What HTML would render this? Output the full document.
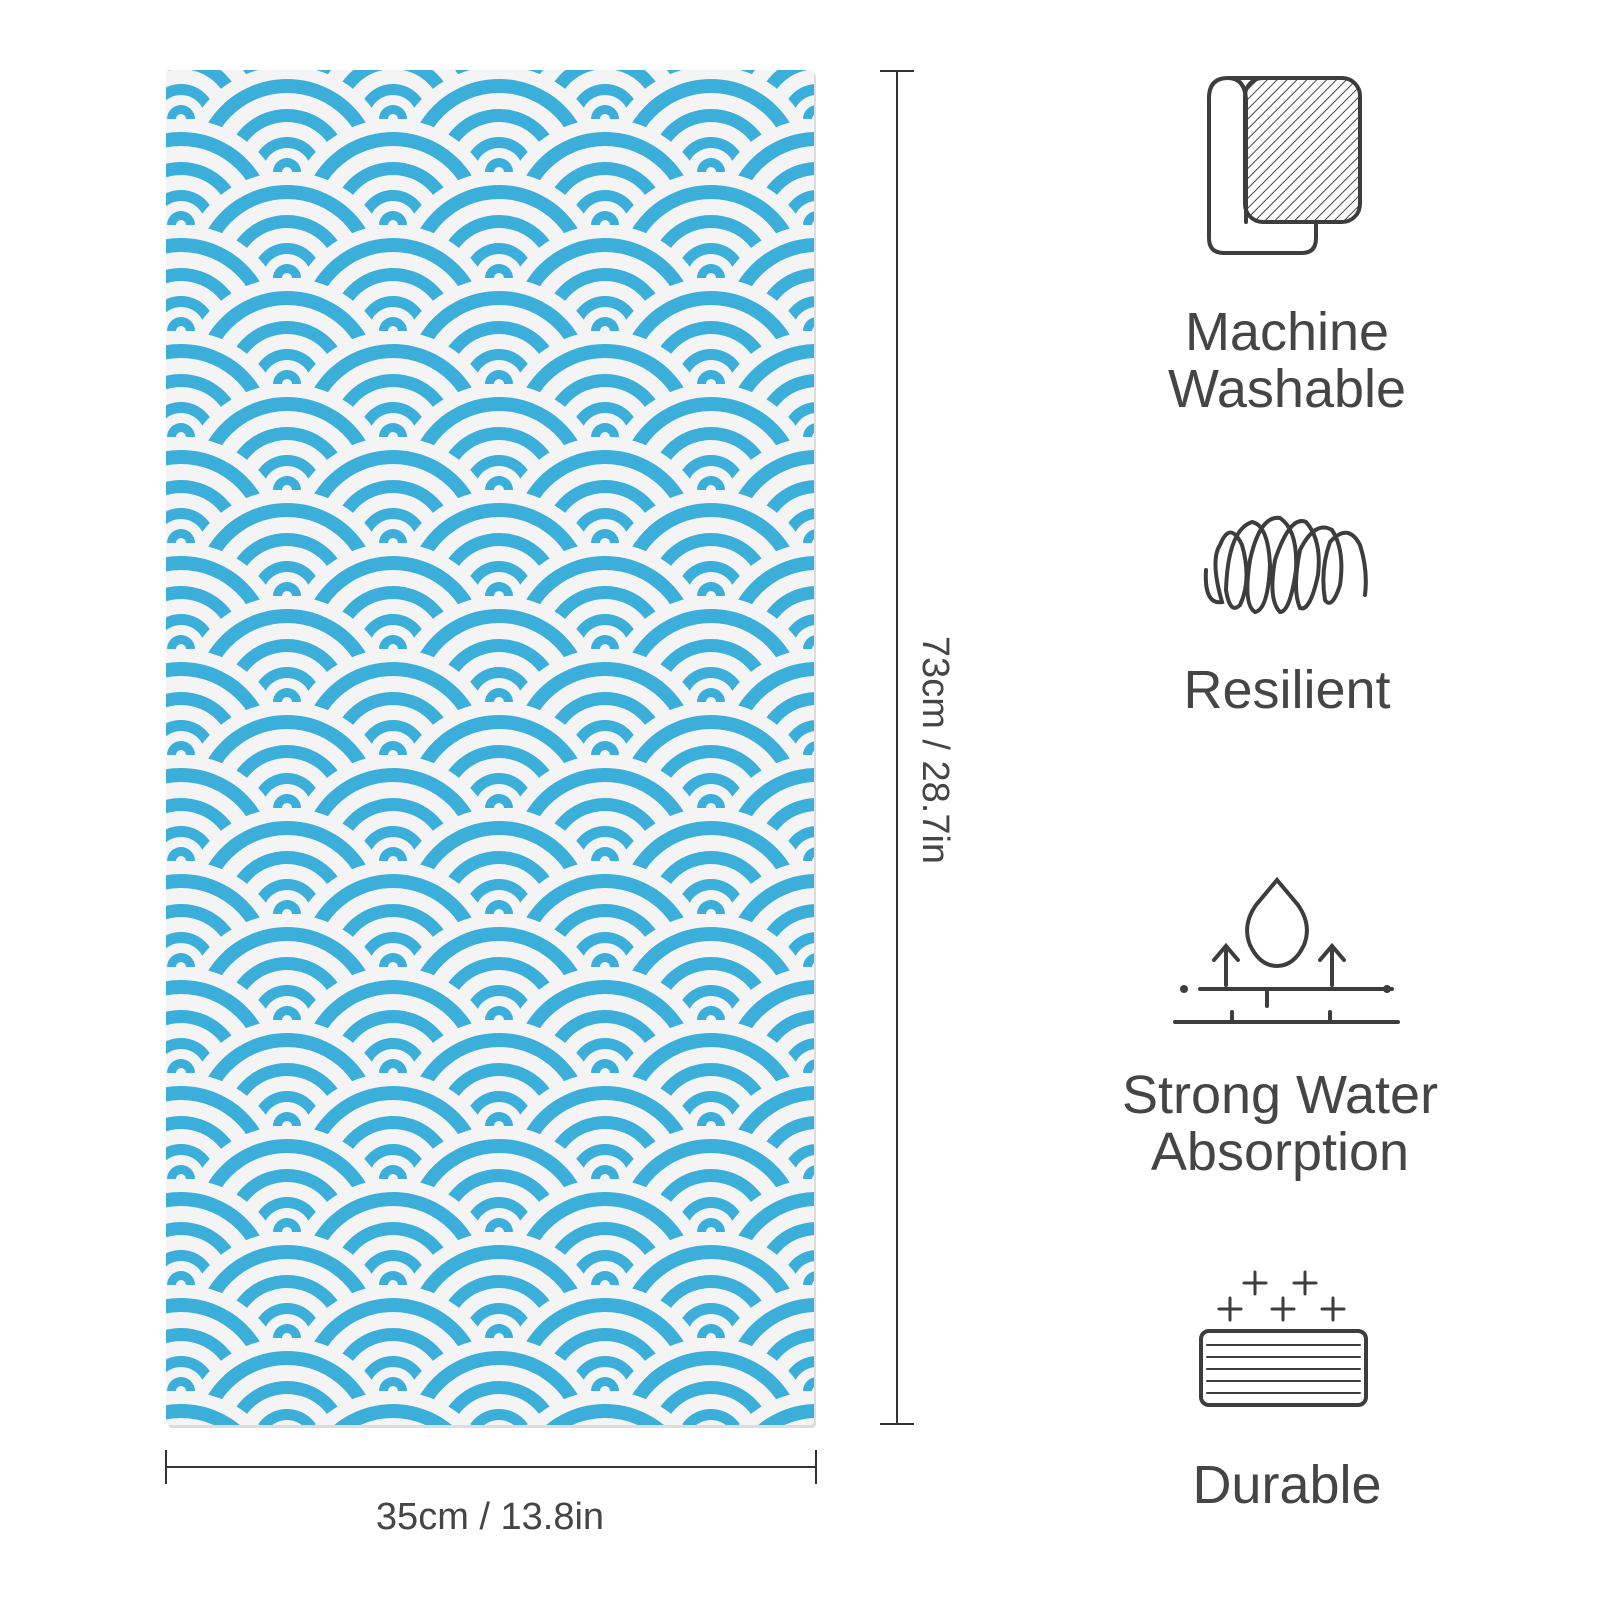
<!DOCTYPE html>
<html><head><meta charset="utf-8"><style>
html,body{margin:0;padding:0;background:#fff;width:1600px;height:1600px;overflow:hidden}
svg{display:block}
.t{position:absolute;font-family:"Liberation Sans",sans-serif;color:#454545;text-align:center;font-size:54px;line-height:57px}
</style></head><body>
<svg id="s" width="1600" height="1600" style="position:absolute;left:0;top:0">
<defs>
<clipPath id="c"><rect x="166" y="70" width="648" height="1355" rx="4"/></clipPath>
<pattern id="h" width="7" height="7" patternUnits="userSpaceOnUse" patternTransform="rotate(45)"><rect width="7" height="7" fill="#fff"/><line x1="0" y1="0" x2="0" y2="7" stroke="#444" stroke-width="2"/></pattern>
</defs>
<rect x="168" y="73" width="648" height="1355" fill="#ddd" rx="4"/>
<g id="w" clip-path="url(#c)"><rect x="166" y="70" width="648" height="1355" fill="#f4f4f4"/></g>
<g stroke="#333" stroke-width="2" fill="none">
<line x1="897" y1="71" x2="897" y2="1424"/><line x1="880" y1="71" x2="914" y2="71"/><line x1="880" y1="1424" x2="914" y2="1424"/>
<line x1="166" y1="1467" x2="816" y2="1467"/><line x1="166" y1="1450" x2="166" y2="1484"/><line x1="816" y1="1450" x2="816" y2="1484"/>
</g>
<g stroke="#3d3d3d" stroke-width="4" fill="none" stroke-linecap="round">
<path d="M1228 78 Q1209 78 1209 98 V238 Q1209 253 1224 253 H1302 Q1316 253 1316 238 V222"/>
<rect x="1245" y="78" width="115" height="144" rx="18" fill="url(#h)"/>
<path d="M1228 78 H1263 M1228 78 Q1245 78 1246 100 V222"/>
<path d="M1206 570 Q1204 605 1222 602 Q1210 560 1220 545 Q1230 520 1242 545 Q1252 580 1240 605 Q1230 615 1226 590 Q1228 530 1252 522 Q1268 525 1270 565 Q1268 610 1255 612 Q1243 605 1250 560 Q1260 515 1280 518 Q1298 530 1296 570 Q1290 612 1280 612 Q1268 600 1275 560 Q1290 515 1306 522 Q1322 540 1318 575 Q1310 612 1300 608 Q1292 590 1300 550 Q1315 520 1332 530 Q1345 550 1340 585 Q1332 610 1325 600 Q1320 570 1330 542 Q1348 522 1360 545 Q1368 570 1365 595"/>
<path d="M1277 880 L1298 905 Q1312 925 1304 945 Q1294 966 1277 966 Q1260 966 1250 945 Q1242 925 1256 905 Z"/>
<path d="M1226 985 V948 M1214 960 L1226 946 L1238 960 M1332 985 V948 M1320 960 L1332 946 L1344 960"/>
<path d="M1200 989 H1392 M1175 1022 H1398 M1267 992 V1006 M1232 1012 V1021 M1330 1012 V1021"/>
<rect x="1201" y="1331" width="165" height="74" rx="8"/>
<g stroke-width="2"><path d="M1207 1345 H1360 M1207 1357 H1360 M1207 1369 H1360 M1207 1381 H1360 M1207 1393 H1360"/></g>
<g stroke-width="3"><path d="M1244 1283 h22 M1255 1272 v22 M1294 1283 h22 M1305 1272 v22 M1219 1309 h22 M1230 1298 v22 M1272 1309 h22 M1283 1298 v22 M1322 1309 h22 M1333 1298 v22"/></g>
</g>
<circle cx="1184" cy="989" r="4" fill="#3d3d3d"/><circle cx="1387" cy="989" r="4" fill="#3d3d3d"/>
</svg>
<div class="t" style="left:1087px;top:304px;width:400px">Machine<br>Washable</div>
<div class="t" style="left:1087px;top:662px;width:400px">Resilient</div>
<div class="t" style="left:1080px;top:1067px;width:400px">Strong Water<br>Absorption</div>
<div class="t" style="left:1087px;top:1457px;width:400px">Durable</div>
<div class="t" style="left:290px;top:1497px;width:400px;font-size:38px;line-height:40px">35cm / 13.8in</div>
<div class="t" style="left:735px;top:730px;width:400px;font-size:38px;line-height:40px;transform:rotate(90deg)">73cm / 28.7in</div>
<script>
var g=document.getElementById('w'),ns='http://www.w3.org/2000/svg',B='#3bafda';
function arc(cx,cy,r1,r0,fill){var p=document.createElementNS(ns,'path');
p.setAttribute('d','M'+(cx-r1)+' '+cy+' A'+r1+' '+r1+' 0 0 1 '+(cx+r1)+' '+cy+' L'+(cx+r0)+' '+cy+' A'+r0+' '+r0+' 0 0 0 '+(cx-r0)+' '+cy+' Z');
p.setAttribute('fill',fill);g.appendChild(p);}
for(var j=-1;j<=26;j++){var cy=172+53*j;var off=(j%2===0)?287:181;
for(var k=-1;k<4;k++){var cx=off+212*k;
arc(cx,cy+1,107,0,'#f4f4f4');arc(cx,cy,93,79,B);arc(cx,cy,63,50,B);arc(cx,cy,35,24,B);arc(cx,cy,14,5,B);}}
</script>
</body></html>
